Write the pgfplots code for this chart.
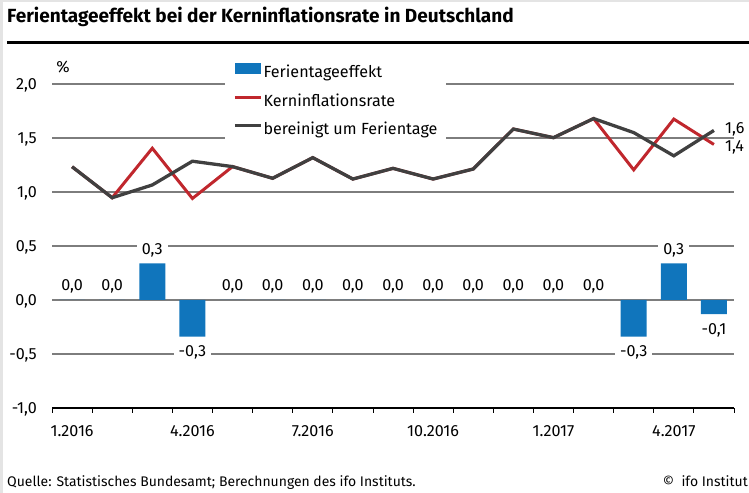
\documentclass[border=0pt]{standalone}
\usepackage{pgfplots}
\pgfplotsset{compat=1.18}
\usepackage{fontspec}
\setmainfont{Fira Sans}
\definecolor{ifoblue}{RGB}{16,117,188}
\definecolor{ifored}{RGB}{192,39,45}
\definecolor{ifogray}{RGB}{64,64,64}
\definecolor{gridgray}{RGB}{125,125,125}
\definecolor{framegray}{RGB}{228,228,228}
\newcommand{\tickfont}{\fontsize{16.2}{18}\selectfont}
\begin{document}
\begin{tikzpicture}
\path[use as bounding box] (0,0) rectangle (749bp,493bp);
\fill[framegray] (0,0) rectangle (2.5bp,493bp);
\fill[framegray] (0,490.5bp) rectangle (749bp,493bp);
\node[anchor=base west, inner sep=0pt, font=\bfseries\fontsize{19.1}{22}\selectfont] at (7bp,470.3bp) {Ferientageeffekt bei der Kerninflationsrate in Deutschland};
\draw[line width=2.5bp] (7bp,450.3bp) -- (749bp,450.3bp);
\node[anchor=base west, inner sep=0pt, font=\fontsize{14}{16}\selectfont] at (7bp,6.3bp) {Quelle: Statistisches Bundesamt; Berechnungen des ifo Instituts.};
\node[anchor=base east, inner sep=0pt, font=\fontsize{14}{16}\selectfont] at (748bp,6.3bp) {©\ \ ifo Institut};
\node[inner sep=0pt, font=\tickfont] at (63bp,426bp) {\%};
\begin{axis}[
  at={(52bp,85bp)}, anchor=south west,
  scale only axis, width=682bp, height=324bp,
  xmin=-0.5, xmax=16.5, ymin=-1, ymax=2,
  clip=false,
  axis x line*=bottom, axis y line*=left,
  x axis line style={black, line width=1.2bp},
  y axis line style={draw=none},
  ytick={-1,-0.5,0,0.5,1,1.5,2},
  ymajorgrids, grid style={gridgray, line width=1.3bp},
  xtick={0,3,6,9,12,15},
  xticklabels={1.2016,4.2016,7.2016,10.2016,1.2017,4.2017},
  minor xtick={-0.5,0.5,1.5,2.5,3.5,4.5,5.5,6.5,7.5,8.5,9.5,10.5,11.5,12.5,13.5,14.5,15.5,16.5},
  tick align=outside, major tick length=0pt, minor tick length=4.5bp,
  minor tick style={black, line width=0.8bp},
  ticklabel style={font=\tickfont},
  yticklabel style={anchor=east, inner sep=0pt, xshift=-15bp, text height=11bp, text depth=0pt},
  xticklabel style={anchor=north, inner sep=0pt, yshift=-17bp, text height=11bp, text depth=0pt},
  legend style={at={(0.2537,1.0865)}, anchor=north west, fill=white, draw=none,
    font=\tickfont, inner xsep=8bp, inner ysep=6.5bp, row sep=14.5bp,
    nodes={inner ysep=0pt, inner xsep=1bp, text height=11bp, text depth=3bp}},
  legend cell align=left,
  /pgf/number format/use comma,
  /pgf/number format/fixed,
  /pgf/number format/fixed zerofill,
  /pgf/number format/precision=1,
  /pgf/number format/assume math mode=true,
]
\addplot[ybar, bar width=26bp, fill=ifoblue, draw=none,
  nodes near coords, nodes near coords align=vertical,
  every node near coord/.append style={fill=white, font=\tickfont, text=black,
     inner xsep=5bp, inner ysep=1bp, outer ysep=8bp, text height=11bp, text depth=0pt},
  legend image code/.code={\fill[ifoblue] (0bp,0bp) rectangle (26bp,11bp);}]
  coordinates {(0,0)(1,0)(2,0.34)(3,-0.34)(4,0)(5,0)(6,0)(7,0)(8,0)(9,0)(10,0)(11,0)(12,0)(13,0)(14,-0.34)(15,0.34)(16,-0.13)};
\addlegendentry{Ferientageeffekt}
\addplot[ifored, line width=3bp,
  legend image code/.code={\draw[ifored, line width=3bp] (0bp,5bp) -- (26bp,5bp);}]
  coordinates {(0,1.234)(1,0.947)(2,1.405)(3,0.94)(4,1.235)(5,1.127)(6,1.318)(7,1.12)(8,1.219)(9,1.12)(10,1.213)(11,1.583)(12,1.503)(13,1.68)(14,1.205)(15,1.675)(16,1.44)};
\addlegendentry{Kerninflationsrate}
\addplot[ifogray, line width=3.3bp,
  legend image code/.code={\draw[ifogray, line width=3.3bp] (0bp,5bp) -- (26bp,5bp);}]
  coordinates {(0,1.234)(1,0.947)(2,1.065)(3,1.285)(4,1.235)(5,1.127)(6,1.318)(7,1.12)(8,1.219)(9,1.12)(10,1.213)(11,1.583)(12,1.503)(13,1.68)(14,1.55)(15,1.335)(16,1.57)};
\addlegendentry{bereinigt um Ferientage}
\node[anchor=west, inner sep=0pt, font=\tickfont] at (axis cs:16,1.578) [xshift=11bp] {1,6};
\node[anchor=west, inner sep=0pt, font=\tickfont] at (axis cs:16,1.415) [xshift=11bp] {1,4};
\end{axis}
\end{tikzpicture}
\end{document}
